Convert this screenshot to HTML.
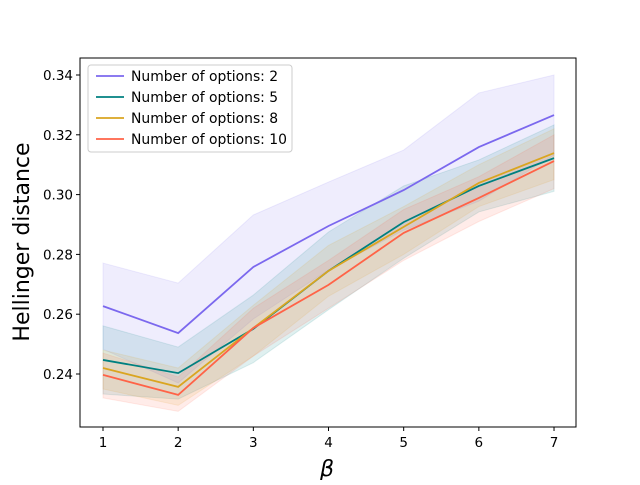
<!DOCTYPE html>
<html><head><meta charset="utf-8"><style>
body{margin:0;background:#fff;}
svg{font-family:"DejaVu Sans","Liberation Sans",sans-serif;}
</style></head><body>
<svg id="chart" width="640" height="480">
<g id="bands"></g>
<g id="lines"></g>
<rect x="80" y="58" width="496" height="369" fill="none" stroke="#000" stroke-width="1"/>
<g id="xt"></g>
<g id="yt"></g>
<text x="327" y="476" font-size="22" font-style="italic" text-anchor="middle">β</text>
<text transform="translate(29,242) rotate(-90)" font-size="22" text-anchor="middle">Hellinger distance</text>
<g id="legend"></g>
</svg>
<script>
const betas=[1,2,3,4,5,6,7];
const names=["Number of options: 2","Number of options: 5","Number of options: 8","Number of options: 10"];
const colors=["#7B68EE","#008080","#DAA520","#FF6347"];
const s2=[0.2627,0.2537,0.2758,0.2895,0.3015,0.3159,0.3266];
const s5=[0.2447,0.2403,0.2551,0.2745,0.2908,0.3029,0.3122];
const s8=[0.2420,0.2357,0.2554,0.2745,0.2892,0.3039,0.3139];
const s10=[0.2397,0.2330,0.2554,0.2698,0.2872,0.2989,0.3112];
const hi2=[0.2771,0.2704,0.2932,0.3042,0.3149,0.3340,0.3400];
const lo2=[0.2483,0.2370,0.2584,0.2748,0.2881,0.2978,0.3132];
const hi5=[0.2561,0.2490,0.2664,0.2875,0.3029,0.3116,0.3233];
const lo5=[0.2333,0.2316,0.2438,0.2615,0.2787,0.2942,0.3011];
const hi8=[0.2480,0.2420,0.2630,0.2830,0.2960,0.3100,0.3220];
const lo8=[0.2350,0.2295,0.2460,0.2660,0.2800,0.2960,0.3050];
const hi10=[0.2470,0.2390,0.2620,0.2780,0.2950,0.3060,0.3200];
const lo10=[0.2320,0.2275,0.2460,0.2620,0.2780,0.2910,0.3020];
const xTicks=[1,2,3,4,5,6,7];
const yTicks=[0.24,0.26,0.28,0.30,0.32,0.34];
const series=[s2,s5,s8,s10],his=[hi2,hi5,hi8,hi10],los=[lo2,lo5,lo8,lo10];
const X=v=>103+(v-1)*75.17, Y=v=>374-(v-0.24)*2990;
const NS="http://www.w3.org/2000/svg";
function mk(t,a,p){const e=document.createElementNS(NS,t);for(const k in a)e.setAttribute(k,a[k]);p.appendChild(e);return e;}
const bands=document.getElementById('bands'),lines=document.getElementById('lines');
series.forEach((s,i)=>{
 const up=betas.map((b,j)=>X(b)+','+Y(his[i][j]));
 const dn=betas.map((b,j)=>X(b)+','+Y(los[i][j])).reverse();
 const p=mk('polygon',{points:up.concat(dn).join(' '),fill:colors[i],'fill-opacity':0.12,stroke:colors[i],'stroke-opacity':0.12},bands);
 
 
 const l=mk('polyline',{points:betas.map((b,j)=>X(b)+','+Y(s[j])).join(' '),fill:'none',stroke:colors[i],'stroke-width':1.8},lines);
 
 
});
const xt=document.getElementById('xt');
xTicks.forEach(t=>{mk('line',{x1:X(t),x2:X(t),y1:427,y2:431,stroke:'#000'},xt);
 const tx=mk('text',{x:X(t),y:447,'font-size':13.5,'text-anchor':'middle'},xt);tx.textContent=t;
 
 });
const yt=document.getElementById('yt');
yTicks.forEach(t=>{mk('line',{x1:76,x2:80,y1:Y(t),y2:Y(t),stroke:'#000'},yt);
 const tx=mk('text',{x:73,y:Y(t)+5,'font-size':13.5,'text-anchor':'end'},yt);tx.textContent=t.toFixed(2);
 
 });
const lg=document.getElementById('legend');
mk('rect',{x:88,y:65,width:204,height:87,rx:3,fill:'#fff','fill-opacity':0.8,stroke:'#ccc'},lg);
names.forEach((n,i)=>{const y=76+i*21;
 mk('line',{x1:96,x2:124,y1:y,y2:y,stroke:colors[i],'stroke-width':1.8},lg);
 const tx=mk('text',{x:131,y:y+5,'font-size':13.9},lg);tx.textContent=n;
 
 });
</script>
</body></html>
